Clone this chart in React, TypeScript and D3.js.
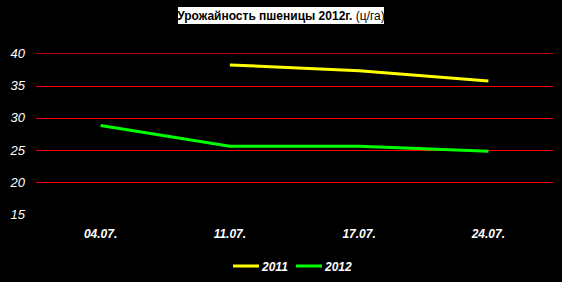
import React from "react";
import * as d3 from "d3";

const categories = ["04.07.", "11.07.", "17.07.", "24.07."];
const series2011: (number | null)[] = [null, 38.2, 37.3, 35.7];
const series2012: (number | null)[] = [28.8, 25.6, 25.6, 24.8];
const yTicks = [15, 20, 25, 30, 35, 40];
const gridTicks = [20, 25, 30, 35, 40];
const seriesNames = ["2011", "2012"];
const seriesColors = ["#ffff00", "#00ff00"];
const titleBold = "Урожайность пшеницы 2012г.";
const titleNormal = " (ц/га)";

const W = 562;
const H = 282;
const left = 36;
const right = 553;
const top = 53.3;
const bottom = 214.5;

export default function App() {
  const x = d3.scaleBand<string>().domain(categories).range([left, right]);
  const y = d3.scaleLinear().domain([15, 40]).range([bottom, top]);
  const cx = (c: string) => (x(c) as number) + x.bandwidth() / 2;

  const mk = (vals: (number | null)[]) =>
    d3
      .line<number | null>()
      .defined((d) => d !== null)
      .x((_, i) => cx(categories[i]))
      .y((d) => y(d as number))(vals) || "";

  const all = [series2011, series2012];

  return (
    <div style={{ position: "fixed", left: 0, top: 0, width: W, height: H }}>
      <svg width={W} height={H} style={{ display: "block", background: "#000" }}>
        <rect x={0} y={0} width={W} height={H} fill="#000" />
        {/* title */}
        <rect x={178} y={7} width={206} height={17} fill="#fff" />
        <text
          x={281}
          y={20}
          textAnchor="middle"
          fontFamily="Liberation Sans, Arial, sans-serif"
          fontSize={12}
          fill="#000"
        >
          <tspan fontWeight="bold">{titleBold}</tspan>
          <tspan>{titleNormal}</tspan>
        </text>
        {/* grid */}
        {gridTicks.map((t) => (
          <line
            key={t}
            x1={left}
            x2={right}
            y1={Math.round(y(t)) + 0.5}
            y2={Math.round(y(t)) + 0.5}
            stroke={t === 40 ? "#b00000" : "#ff0000"}
            strokeWidth={1}
          />
        ))}
        {/* y labels */}
        {yTicks.map((t) => (
          <text
            key={t}
            x={25}
            y={y(t) + 4.5}
            textAnchor="end"
            fontFamily="Liberation Sans, Arial, sans-serif"
            fontStyle="italic"
            fontSize={13}
            fill="#fff"
          >
            {t}
          </text>
        ))}
        {/* x labels */}
        {categories.map((c) => (
          <text
            key={c}
            x={cx(c)}
            y={238}
            textAnchor="middle"
            fontFamily="Liberation Sans, Arial, sans-serif"
            fontStyle="italic"
            fontWeight="bold"
            fontSize={12}
            fill="#fff"
          >
            {c}
          </text>
        ))}
        {/* lines */}
        {all.map((s, i) => (
          <path
            key={i}
            d={mk(s)}
            fill="none"
            stroke={seriesColors[i]}
            strokeWidth={3}
          />
        ))}
        {/* legend */}
        {seriesNames.map((n, i) => {
          const lx = 233 + i * 63;
          return (
            <g key={n}>
              <line x1={lx} x2={lx + 26} y1={266} y2={266} stroke={seriesColors[i]} strokeWidth={3} />
              <text
                x={lx + 29}
                y={271}
                fontFamily="Liberation Sans, Arial, sans-serif"
                fontStyle="italic"
                fontWeight="bold"
                fontSize={12}
                fill="#fff"
              >
                {n}
              </text>
            </g>
          );
        })}
      </svg>
    </div>
  );
}
